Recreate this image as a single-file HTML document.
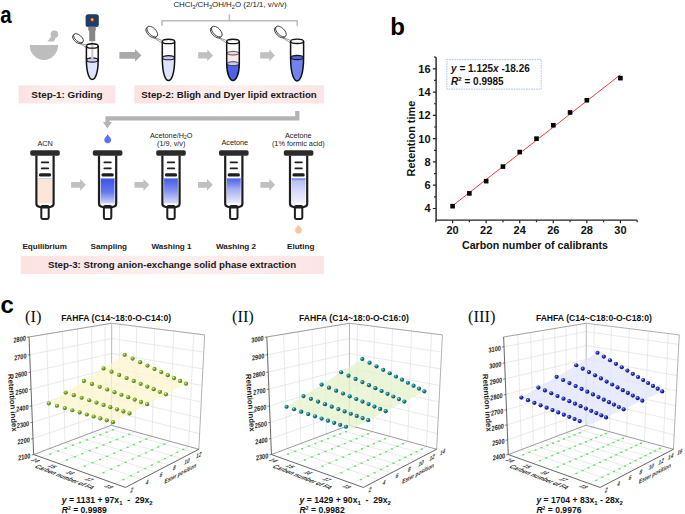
<!DOCTYPE html>
<html><head><meta charset="utf-8"><style>html,body{margin:0;padding:0;background:#fff;overflow:hidden;width:685px;height:514px;}svg{display:block;}</style></head>
<body><svg width="685" height="514" viewBox="0 0 685 514">
<defs>
<linearGradient id="pinkg" x1="0" x2="1" y1="0" y2="0"><stop offset="0" stop-color="#fce2e2"/><stop offset="0.5" stop-color="#fdf0f0"/><stop offset="1" stop-color="#fce4e4"/></linearGradient>
<linearGradient id="g_s2" x1="0" x2="0" y1="0" y2="1"><stop offset="0" stop-color="#3d52e6"/><stop offset="0.5" stop-color="#6476ec"/><stop offset="1" stop-color="#e2e6fb"/></linearGradient>
<linearGradient id="g_s3" x1="0" x2="0" y1="0" y2="1"><stop offset="0" stop-color="#4658e6"/><stop offset="0.45" stop-color="#8290ef"/><stop offset="1" stop-color="#e6e8fb"/></linearGradient>
<linearGradient id="g_s4" x1="0" x2="0" y1="0" y2="1"><stop offset="0" stop-color="#4a5ee8"/><stop offset="0.4" stop-color="#a4aef3"/><stop offset="1" stop-color="#f8f5fb"/></linearGradient>
<linearGradient id="g_s5" x1="0" x2="0" y1="0" y2="1"><stop offset="0" stop-color="#5a6ae8"/><stop offset="0.09" stop-color="#b8bff5"/><stop offset="0.5" stop-color="#d9ddf9"/><stop offset="1" stop-color="#f7f7fe"/></linearGradient>
<radialGradient id="sph0" cx="0.38" cy="0.35" r="0.7"><stop offset="0" stop-color="#eefcc0"/><stop offset="0.3" stop-color="#8cbc2c"/><stop offset="1" stop-color="#3a6a0a"/></radialGradient>
<radialGradient id="sph1" cx="0.38" cy="0.35" r="0.65"><stop offset="0" stop-color="#b8f4f4"/><stop offset="0.35" stop-color="#1c909a"/><stop offset="1" stop-color="#064650"/></radialGradient>
<radialGradient id="sph2" cx="0.38" cy="0.35" r="0.65"><stop offset="0" stop-color="#c0c8ff"/><stop offset="0.35" stop-color="#2838d0"/><stop offset="1" stop-color="#080c70"/></radialGradient>
</defs>
<text transform="translate(0.2,23) scale(0.82,0.97)" font-family="Liberation Sans, sans-serif" font-weight="bold" font-size="25">a</text>
<path d="M29.7,44.9 H58.1 A14.2,15.1 0 0 1 29.7,44.9 Z" fill="#bdbdbd"/>
<path d="M47.4,41.4 L53.9,41.4 L55.6,37.4 L52.0,35.4 Z" fill="#bdbdbd"/>
<circle cx="54.4" cy="34.3" r="3.8" fill="#bdbdbd"/>
<rect x="85.6" y="14.3" width="13.2" height="12.7" rx="2.5" fill="#1f3d6b"/>
<circle cx="92.2" cy="19.7" r="2.0" fill="#e42a1c"/><circle cx="92.2" cy="19.6" r="1.15" fill="#ffe600"/>
<rect x="88.2" y="26.5" width="7.6" height="4.1" fill="#858585"/>
<rect x="89.2" y="30" width="6.0" height="11.1" fill="#858585"/>
<path d="M86.39999999999999,60.0 C86.39999999999999,73.4 89.5,79.4 92.3,79.4 C95.1,79.4 98.2,73.4 98.2,60.0 Z" fill="#dfe3fb"/>
<ellipse cx="92.3" cy="60.0" rx="5.6000000000000005" ry="2.1" fill="#c5cdf7" stroke="#1a1a1a" stroke-width="1.1"/>
<rect x="91.2" y="41" width="2.2" height="19.0" fill="#cdcdcd"/>
<path d="M86.39999999999999,45.9 V60.0 C86.39999999999999,73.4 89.5,79.4 92.3,79.4 C95.1,79.4 98.2,73.4 98.2,60.0 V45.9" fill="none" stroke="#111" stroke-width="1.5"/>
<ellipse cx="92.3" cy="45.9" rx="5.9" ry="2.2" fill="none" stroke="#111" stroke-width="1.4"/>
<path d="M75.49,40.79 L86.60,47.80 M80.38,43.31 L87.20,45.30" stroke="#555" stroke-width="0.6" fill="none"/>
<ellipse cx="77.40" cy="39.20" rx="5.9" ry="3.1" transform="rotate(41 77.40 39.20)" fill="#fff" stroke="#222" stroke-width="0.8"/>
<ellipse cx="78.50" cy="38.20" rx="5.9" ry="3.1" transform="rotate(41 78.50 38.20)" fill="#fff" stroke="#222" stroke-width="0.8"/>
<path d="M162.3,57.7 C162.3,74.5 165.7,80.5 168.5,80.5 C171.3,80.5 174.7,74.5 174.7,57.7 Z" fill="#dde3fb"/>
<ellipse cx="168.5" cy="57.7" rx="5.9" ry="2.1" fill="#c3cbf6" stroke="#1a1a1a" stroke-width="1.1"/>
<path d="M162.3,41.4 V57.7 C162.3,74.5 165.7,80.5 168.5,80.5 C171.3,80.5 174.7,74.5 174.7,57.7 V41.4" fill="none" stroke="#111" stroke-width="1.5"/>
<ellipse cx="168.5" cy="41.4" rx="6.2" ry="2.2" fill="none" stroke="#111" stroke-width="1.4"/>
<path d="M148.75,34.32 L162.50,43.30 M154.12,37.54 L163.10,40.80" stroke="#555" stroke-width="0.6" fill="none"/>
<ellipse cx="151.20" cy="32.60" rx="6.7" ry="3.6" transform="rotate(45 151.20 32.60)" fill="#fff" stroke="#222" stroke-width="0.8"/>
<ellipse cx="152.30" cy="31.60" rx="6.7" ry="3.6" transform="rotate(45 152.30 31.60)" fill="#fff" stroke="#222" stroke-width="0.8"/>
<rect x="226.7" y="53.2" width="12.6" height="10.5" fill="#fbeaea"/>
<ellipse cx="233.0" cy="53.2" rx="6.0" ry="1.8" fill="#f6d4d4" stroke="#333" stroke-width="0.8"/>
<path d="M226.7,63.7 C226.7,74.5 230.2,80.5 233.0,80.5 C235.8,80.5 239.3,74.5 239.3,63.7 Z" fill="#4d62e8"/>
<ellipse cx="233.0" cy="63.7" rx="6.0" ry="2.0" fill="#c3cbf8" stroke="#333" stroke-width="0.9"/>
<path d="M226.7,41.4 V63.7 C226.7,74.5 230.2,80.5 233.0,80.5 C235.8,80.5 239.3,74.5 239.3,63.7 V41.4" fill="none" stroke="#111" stroke-width="1.5"/>
<ellipse cx="233.0" cy="41.4" rx="6.3" ry="2.2" fill="none" stroke="#111" stroke-width="1.4"/>
<path d="M213.25,34.32 L226.90,43.30 M218.62,37.54 L227.50,40.80" stroke="#555" stroke-width="0.6" fill="none"/>
<ellipse cx="215.70" cy="32.60" rx="6.7" ry="3.6" transform="rotate(45 215.70 32.60)" fill="#fff" stroke="#222" stroke-width="0.8"/>
<ellipse cx="216.80" cy="31.60" rx="6.7" ry="3.6" transform="rotate(45 216.80 31.60)" fill="#fff" stroke="#222" stroke-width="0.8"/>
<path d="M290.6,57.5 C290.6,75.0 294.3,81.0 297.1,81.0 C299.90000000000003,81.0 303.6,75.0 303.6,57.5 Z" fill="#7283f1"/>
<ellipse cx="297.1" cy="57.5" rx="6.2" ry="2.1" fill="#4d62e6" stroke="#1a1a1a" stroke-width="1.1"/>
<path d="M290.6,41.3 V57.5 C290.6,75.0 294.3,81.0 297.1,81.0 C299.90000000000003,81.0 303.6,75.0 303.6,57.5 V41.3" fill="none" stroke="#111" stroke-width="1.5"/>
<ellipse cx="297.1" cy="41.3" rx="6.5" ry="2.2" fill="none" stroke="#111" stroke-width="1.4"/>
<path d="M277.35,34.22 L290.80,43.20 M282.72,37.44 L291.40,40.70" stroke="#555" stroke-width="0.6" fill="none"/>
<ellipse cx="279.80" cy="32.50" rx="6.7" ry="3.6" transform="rotate(45 279.80 32.50)" fill="#fff" stroke="#222" stroke-width="0.8"/>
<ellipse cx="280.90" cy="31.50" rx="6.7" ry="3.6" transform="rotate(45 280.90 31.50)" fill="#fff" stroke="#222" stroke-width="0.8"/>
<path d="M119.40,52.10 H135.10 V49.10 L141.40,55.40 L135.10,61.70 V58.70 H119.40 Z" fill="#a9a9a9"/>
<path d="M198.20,52.25 H207.30 V49.50 L213.00,55.40 L207.30,61.30 V58.55 H198.20 Z" fill="#c0c0c0"/>
<path d="M260.20,52.25 H269.30 V49.50 L275.00,55.40 L269.30,61.30 V58.55 H260.20 Z" fill="#c0c0c0"/>
<path d="M162,25.8 V20.8 H297.2 V25.8 M229.4,20.8 V14.2" fill="none" stroke="#bcbcbc" stroke-width="1.5"/>
<text x="173.4" y="6.7" font-family="Liberation Sans, sans-serif" font-size="7.9" fill="#222">CHCl<tspan font-size="5.6" dy="2">3</tspan><tspan dy="-2">/CH</tspan><tspan font-size="5.6" dy="2">3</tspan><tspan dy="-2">OH/H</tspan><tspan font-size="5.6" dy="2">2</tspan><tspan dy="-2">O (2/1/1, v/v/v)</tspan></text>
<rect x="18.6" y="85.4" width="96.8" height="18.1" fill="url(#pinkg)"/>
<text x="67" y="97.5" font-family="Liberation Sans, sans-serif" font-weight="bold" font-size="9.9" text-anchor="middle" fill="#1a1a1a">Step-1: Griding</text>
<rect x="134.3" y="85.2" width="189.6" height="18.3" fill="url(#pinkg)"/>
<text x="229" y="97.5" font-family="Liberation Sans, sans-serif" font-weight="bold" font-size="9.7" text-anchor="middle" fill="#1a1a1a">Step-2: Bligh and Dyer lipid extraction</text>
<path d="M297.3,111 V118.4 H107.5 V123" fill="none" stroke="#b4b4b4" stroke-width="4.2"/>
<path d="M102.9,122 H111.9 L107.4,128.6 Z" fill="#b4b4b4"/>
<path d="M107.7,134.2 C109.2,136.7 111.12,137.728 111.12,139.78 A3.42,3.42 0 0 1 104.28,139.78 C104.28,137.728 106.2,136.7 107.7,134.2 Z" fill="#5872f2"/>
<path d="M298.5,224.6 C300.0,227.1 301.92,228.12800000000001 301.92,230.18 A3.42,3.42 0 0 1 295.08,230.18 C295.08,228.12800000000001 297.0,227.1 298.5,224.6 Z" fill="#f9c6a0"/>
<rect x="30.2" y="150.2" width="29.6" height="5.6" rx="1.8" fill="#2b2b2b"/>
<rect x="38.1" y="178.6" width="13.8" height="27" fill="#fde6d6"/>
<line x1="38.6" y1="178.6" x2="51.400000000000006" y2="178.6" stroke="#8fb6ee" stroke-width="0.6"/>
<rect x="38.1" y="203.4" width="13.8" height="3.6" fill="#fff"/>
<line x1="41.5" y1="205.4" x2="48.5" y2="205.4" stroke="#7fbcec" stroke-width="0.8"/>
<rect x="41.30" y="206" width="7.4" height="12.9" rx="1.4" fill="#fff" stroke="#1e1e1e" stroke-width="2"/>
<path d="M36.40,155.5 V203.6 Q36.40,206.4 39.00,206.7 Q45.00,208.3 51.00,206.7 Q53.60,206.4 53.60,203.6 V155.5" fill="none" stroke="#1e1e1e" stroke-width="2.2" stroke-linejoin="round"/>
<line x1="41.7" y1="162.3" x2="48.3" y2="162.3" stroke="#1e1e1e" stroke-width="1.7" stroke-linecap="round"/>
<line x1="41.7" y1="168.3" x2="48.3" y2="168.3" stroke="#1e1e1e" stroke-width="1.7" stroke-linecap="round"/>
<line x1="40.4" y1="174.9" x2="49.6" y2="174.9" stroke="#1e1e1e" stroke-width="3.1" stroke-linecap="round"/>
<rect x="92.8" y="150.2" width="29.6" height="5.6" rx="1.8" fill="#2b2b2b"/>
<rect x="100.69999999999999" y="178.3" width="13.8" height="27.3" fill="url(#g_s2)"/>
<line x1="101.19999999999999" y1="178.6" x2="113.99999999999999" y2="178.6" stroke="#8fb6ee" stroke-width="0.6"/>
<rect x="100.69999999999999" y="203.4" width="13.8" height="3.6" fill="#fff"/>
<line x1="104.1" y1="205.4" x2="111.1" y2="205.4" stroke="#7fbcec" stroke-width="0.8"/>
<rect x="103.90" y="206" width="7.4" height="12.9" rx="1.4" fill="#fff" stroke="#1e1e1e" stroke-width="2"/>
<path d="M99.00,155.5 V203.6 Q99.00,206.4 101.60,206.7 Q107.60,208.3 113.60,206.7 Q116.20,206.4 116.20,203.6 V155.5" fill="none" stroke="#1e1e1e" stroke-width="2.2" stroke-linejoin="round"/>
<line x1="104.3" y1="162.3" x2="110.89999999999999" y2="162.3" stroke="#1e1e1e" stroke-width="1.7" stroke-linecap="round"/>
<line x1="104.3" y1="168.3" x2="110.89999999999999" y2="168.3" stroke="#1e1e1e" stroke-width="1.7" stroke-linecap="round"/>
<line x1="103.0" y1="174.9" x2="112.19999999999999" y2="174.9" stroke="#1e1e1e" stroke-width="3.1" stroke-linecap="round"/>
<rect x="156.2" y="150.2" width="29.6" height="5.6" rx="1.8" fill="#2b2b2b"/>
<rect x="164.1" y="178.3" width="13.8" height="27.3" fill="url(#g_s3)"/>
<line x1="164.6" y1="178.6" x2="177.4" y2="178.6" stroke="#8fb6ee" stroke-width="0.6"/>
<rect x="164.1" y="203.4" width="13.8" height="3.6" fill="#fff"/>
<line x1="167.5" y1="205.4" x2="174.5" y2="205.4" stroke="#7fbcec" stroke-width="0.8"/>
<rect x="167.30" y="206" width="7.4" height="12.9" rx="1.4" fill="#fff" stroke="#1e1e1e" stroke-width="2"/>
<path d="M162.40,155.5 V203.6 Q162.40,206.4 165.00,206.7 Q171.00,208.3 177.00,206.7 Q179.60,206.4 179.60,203.6 V155.5" fill="none" stroke="#1e1e1e" stroke-width="2.2" stroke-linejoin="round"/>
<line x1="167.7" y1="162.3" x2="174.3" y2="162.3" stroke="#1e1e1e" stroke-width="1.7" stroke-linecap="round"/>
<line x1="167.7" y1="168.3" x2="174.3" y2="168.3" stroke="#1e1e1e" stroke-width="1.7" stroke-linecap="round"/>
<line x1="166.4" y1="174.9" x2="175.6" y2="174.9" stroke="#1e1e1e" stroke-width="3.1" stroke-linecap="round"/>
<rect x="219.0" y="150.2" width="29.6" height="5.6" rx="1.8" fill="#2b2b2b"/>
<rect x="226.9" y="178.3" width="13.8" height="27.3" fill="url(#g_s4)"/>
<line x1="227.4" y1="178.6" x2="240.20000000000002" y2="178.6" stroke="#8fb6ee" stroke-width="0.6"/>
<rect x="226.9" y="203.4" width="13.8" height="3.6" fill="#fff"/>
<line x1="230.3" y1="205.4" x2="237.3" y2="205.4" stroke="#7fbcec" stroke-width="0.8"/>
<rect x="230.10" y="206" width="7.4" height="12.9" rx="1.4" fill="#fff" stroke="#1e1e1e" stroke-width="2"/>
<path d="M225.20,155.5 V203.6 Q225.20,206.4 227.80,206.7 Q233.80,208.3 239.80,206.7 Q242.40,206.4 242.40,203.6 V155.5" fill="none" stroke="#1e1e1e" stroke-width="2.2" stroke-linejoin="round"/>
<line x1="230.5" y1="162.3" x2="237.10000000000002" y2="162.3" stroke="#1e1e1e" stroke-width="1.7" stroke-linecap="round"/>
<line x1="230.5" y1="168.3" x2="237.10000000000002" y2="168.3" stroke="#1e1e1e" stroke-width="1.7" stroke-linecap="round"/>
<line x1="229.20000000000002" y1="174.9" x2="238.4" y2="174.9" stroke="#1e1e1e" stroke-width="3.1" stroke-linecap="round"/>
<rect x="283.8" y="150.2" width="29.6" height="5.6" rx="1.8" fill="#2b2b2b"/>
<rect x="291.70000000000005" y="178.3" width="13.8" height="27.3" fill="url(#g_s5)"/>
<line x1="292.20000000000005" y1="178.6" x2="305.00000000000006" y2="178.6" stroke="#8fb6ee" stroke-width="0.6"/>
<rect x="291.70000000000005" y="203.4" width="13.8" height="3.6" fill="#fff"/>
<line x1="295.1" y1="205.4" x2="302.1" y2="205.4" stroke="#7fbcec" stroke-width="0.8"/>
<rect x="294.90" y="206" width="7.4" height="12.9" rx="1.4" fill="#fff" stroke="#1e1e1e" stroke-width="2"/>
<path d="M290.00,155.5 V203.6 Q290.00,206.4 292.60,206.7 Q298.60,208.3 304.60,206.7 Q307.20,206.4 307.20,203.6 V155.5" fill="none" stroke="#1e1e1e" stroke-width="2.2" stroke-linejoin="round"/>
<line x1="295.3" y1="162.3" x2="301.90000000000003" y2="162.3" stroke="#1e1e1e" stroke-width="1.7" stroke-linecap="round"/>
<line x1="295.3" y1="168.3" x2="301.90000000000003" y2="168.3" stroke="#1e1e1e" stroke-width="1.7" stroke-linecap="round"/>
<line x1="294.0" y1="174.9" x2="303.20000000000005" y2="174.9" stroke="#1e1e1e" stroke-width="3.1" stroke-linecap="round"/>
<path d="M71.10,181.95 H80.10 V178.90 L85.90,184.80 L80.10,190.70 V187.65 H71.10 Z" fill="#c0c0c0"/>
<path d="M134.50,181.95 H143.50 V178.90 L149.30,184.80 L143.50,190.70 V187.65 H134.50 Z" fill="#c0c0c0"/>
<path d="M198.00,181.95 H207.00 V178.90 L212.80,184.80 L207.00,190.70 V187.65 H198.00 Z" fill="#c0c0c0"/>
<path d="M260.40,181.95 H269.40 V178.90 L275.20,184.80 L269.40,190.70 V187.65 H260.40 Z" fill="#c0c0c0"/>
<text x="45.1" y="145.6" font-family="Liberation Sans, sans-serif" font-size="7.3" text-anchor="middle" fill="#222">ACN</text>
<text x="171.2" y="137.9" font-family="Liberation Sans, sans-serif" font-size="7.3" text-anchor="middle" fill="#222">Acetone/H<tspan font-size="5" dy="1.5">2</tspan><tspan dy="-1.5">O</tspan></text>
<text x="171.2" y="146.1" font-family="Liberation Sans, sans-serif" font-size="7.3" text-anchor="middle" fill="#222">(1/9, v/v)</text>
<text x="234.8" y="145.3" font-family="Liberation Sans, sans-serif" font-size="7.3" text-anchor="middle" fill="#222">Acetone</text>
<text x="298.3" y="137.9" font-family="Liberation Sans, sans-serif" font-size="7.3" text-anchor="middle" fill="#222">Acetone</text>
<text x="298.3" y="146.1" font-family="Liberation Sans, sans-serif" font-size="7.3" text-anchor="middle" fill="#222">(1% formic acid)</text>
<text x="22.4" y="249" font-family="Liberation Sans, sans-serif" font-weight="bold" font-size="8.1" fill="#1a1a1a">Equilibrium</text>
<text x="90.6" y="249" font-family="Liberation Sans, sans-serif" font-weight="bold" font-size="8.1" fill="#1a1a1a">Sampling</text>
<text x="151.4" y="249" font-family="Liberation Sans, sans-serif" font-weight="bold" font-size="8.1" fill="#1a1a1a">Washing 1</text>
<text x="215.9" y="249" font-family="Liberation Sans, sans-serif" font-weight="bold" font-size="8.1" fill="#1a1a1a">Washing 2</text>
<text x="287.0" y="249" font-family="Liberation Sans, sans-serif" font-weight="bold" font-size="8.1" fill="#1a1a1a">Eluting</text>
<rect x="20.7" y="255.8" width="303.1" height="18.2" fill="url(#pinkg)"/>
<text x="172" y="268.2" font-family="Liberation Sans, sans-serif" font-weight="bold" font-size="9.7" text-anchor="middle" fill="#1a1a1a">Step-3: Strong anion-exchange solid phase extraction</text>
<text x="390.3" y="34.9" font-family="Liberation Sans, sans-serif" font-weight="bold" font-size="24">b</text>
<path d="M436.1,57.18000000000001 V220.14 H637.1800000000001" fill="none" stroke="#222" stroke-width="1.4"/>
<path d="M452.60,220.14 v3.2 M469.38,220.14 v2.0 M486.16,220.14 v3.2 M502.94,220.14 v2.0 M519.72,220.14 v3.2 M536.50,220.14 v2.0 M553.28,220.14 v3.2 M570.06,220.14 v2.0 M586.84,220.14 v3.2 M603.62,220.14 v2.0 M620.40,220.14 v3.2 M435.82,220.14 v2 M637.18,220.14 v2 M436.1,208.50 h-3.2 M436.1,196.86 h-2.0 M436.1,185.22 h-3.2 M436.1,173.58 h-2.0 M436.1,161.94 h-3.2 M436.1,150.30 h-2.0 M436.1,138.66 h-3.2 M436.1,127.02 h-2.0 M436.1,115.38 h-3.2 M436.1,103.74 h-2.0 M436.1,92.10 h-3.2 M436.1,80.46 h-2.0 M436.1,68.82 h-3.2 M436.1,57.18 h-2" stroke="#222" stroke-width="1.2" fill="none"/>
<text x="452.60" y="233.7" font-family="Liberation Sans, sans-serif" font-weight="bold" font-size="11" text-anchor="middle" fill="#111">20</text>
<text x="486.16" y="233.7" font-family="Liberation Sans, sans-serif" font-weight="bold" font-size="11" text-anchor="middle" fill="#111">22</text>
<text x="519.72" y="233.7" font-family="Liberation Sans, sans-serif" font-weight="bold" font-size="11" text-anchor="middle" fill="#111">24</text>
<text x="553.28" y="233.7" font-family="Liberation Sans, sans-serif" font-weight="bold" font-size="11" text-anchor="middle" fill="#111">26</text>
<text x="586.84" y="233.7" font-family="Liberation Sans, sans-serif" font-weight="bold" font-size="11" text-anchor="middle" fill="#111">28</text>
<text x="620.40" y="233.7" font-family="Liberation Sans, sans-serif" font-weight="bold" font-size="11" text-anchor="middle" fill="#111">30</text>
<text x="430.6" y="212.40" font-family="Liberation Sans, sans-serif" font-weight="bold" font-size="11" text-anchor="end" fill="#111">4</text>
<text x="430.6" y="189.12" font-family="Liberation Sans, sans-serif" font-weight="bold" font-size="11" text-anchor="end" fill="#111">6</text>
<text x="430.6" y="165.84" font-family="Liberation Sans, sans-serif" font-weight="bold" font-size="11" text-anchor="end" fill="#111">8</text>
<text x="430.6" y="142.56" font-family="Liberation Sans, sans-serif" font-weight="bold" font-size="11" text-anchor="end" fill="#111">10</text>
<text x="430.6" y="119.28" font-family="Liberation Sans, sans-serif" font-weight="bold" font-size="11" text-anchor="end" fill="#111">12</text>
<text x="430.6" y="96.00" font-family="Liberation Sans, sans-serif" font-weight="bold" font-size="11" text-anchor="end" fill="#111">14</text>
<text x="430.6" y="72.72" font-family="Liberation Sans, sans-serif" font-weight="bold" font-size="11" text-anchor="end" fill="#111">16</text>
<text x="535" y="249.3" font-family="Liberation Sans, sans-serif" font-weight="bold" font-size="10.7" text-anchor="middle" fill="#111">Carbon number of calibrants</text>
<text transform="translate(415.4,138.6) rotate(-90)" x="0" y="0" font-family="Liberation Sans, sans-serif" font-weight="bold" font-size="10.9" text-anchor="middle" fill="#111">Retention time</text>
<line x1="452.6" y1="205.71" x2="620.4000000000001" y2="74.76" stroke="#f03c3c" stroke-width="1"/>
<rect x="450.30" y="203.87" width="4.6" height="4.6" fill="#000"/>
<rect x="467.08" y="191.07" width="4.6" height="4.6" fill="#000"/>
<rect x="483.86" y="178.85" width="4.6" height="4.6" fill="#000"/>
<rect x="500.64" y="164.30" width="4.6" height="4.6" fill="#000"/>
<rect x="517.42" y="149.75" width="4.6" height="4.6" fill="#000"/>
<rect x="534.20" y="136.36" width="4.6" height="4.6" fill="#000"/>
<rect x="550.98" y="122.97" width="4.6" height="4.6" fill="#000"/>
<rect x="567.76" y="110.17" width="4.6" height="4.6" fill="#000"/>
<rect x="584.54" y="97.95" width="4.6" height="4.6" fill="#000"/>
<rect x="618.10" y="75.83" width="4.6" height="4.6" fill="#000"/>
<rect x="446.9" y="59.4" width="94.3" height="29.7" fill="#fff" stroke="#8aa6dc" stroke-width="0.7" stroke-dasharray="1.6,0.9"/>
<text x="451.1" y="72.3" font-family="Liberation Sans, sans-serif" font-weight="bold" font-size="10" fill="#111"><tspan font-style="italic">y</tspan> = 1.125<tspan font-style="italic">x</tspan> -18.26</text>
<text x="451.1" y="84.7" font-family="Liberation Sans, sans-serif" font-weight="bold" font-size="10" fill="#111"><tspan font-style="italic">R</tspan><tspan font-size="6" dy="-3.5">2</tspan><tspan dy="3.5"> = 0.9985</tspan></text>
<text x="0.5" y="312.6" font-family="Liberation Sans, sans-serif" font-weight="bold" font-size="24">c</text>
<line x1="50.04" y1="448.38" x2="46.58" y2="334.05" stroke="#dedede" stroke-width="0.65"/>
<line x1="64.93" y1="442.77" x2="62.47" y2="331.42" stroke="#dedede" stroke-width="0.65"/>
<line x1="79.03" y1="437.45" x2="77.47" y2="328.93" stroke="#dedede" stroke-width="0.65"/>
<line x1="92.40" y1="432.41" x2="91.64" y2="326.58" stroke="#dedede" stroke-width="0.65"/>
<line x1="105.09" y1="427.62" x2="105.06" y2="324.36" stroke="#dedede" stroke-width="0.65"/>
<line x1="33.03" y1="438.64" x2="111.44" y2="411.33" stroke="#dedede" stroke-width="0.65"/>
<line x1="32.39" y1="422.44" x2="111.48" y2="397.20" stroke="#dedede" stroke-width="0.65"/>
<line x1="31.74" y1="405.95" x2="111.53" y2="382.86" stroke="#dedede" stroke-width="0.65"/>
<line x1="31.08" y1="389.16" x2="111.57" y2="368.30" stroke="#dedede" stroke-width="0.65"/>
<line x1="30.41" y1="372.08" x2="111.62" y2="353.52" stroke="#dedede" stroke-width="0.65"/>
<line x1="29.72" y1="354.68" x2="111.66" y2="338.50" stroke="#dedede" stroke-width="0.65"/>
<line x1="29.03" y1="336.96" x2="111.71" y2="323.25" stroke="#dedede" stroke-width="0.65"/>
<line x1="118.84" y1="427.29" x2="119.57" y2="324.24" stroke="#dedede" stroke-width="0.65"/>
<line x1="135.06" y1="431.74" x2="136.73" y2="326.38" stroke="#dedede" stroke-width="0.65"/>
<line x1="152.05" y1="436.40" x2="154.76" y2="328.64" stroke="#dedede" stroke-width="0.65"/>
<line x1="169.89" y1="441.29" x2="173.73" y2="331.01" stroke="#dedede" stroke-width="0.65"/>
<line x1="188.62" y1="446.43" x2="193.72" y2="333.51" stroke="#dedede" stroke-width="0.65"/>
<line x1="111.44" y1="411.33" x2="199.63" y2="433.73" stroke="#dedede" stroke-width="0.65"/>
<line x1="111.48" y1="397.20" x2="200.43" y2="417.95" stroke="#dedede" stroke-width="0.65"/>
<line x1="111.53" y1="382.86" x2="201.24" y2="401.91" stroke="#dedede" stroke-width="0.65"/>
<line x1="111.57" y1="368.30" x2="202.07" y2="385.59" stroke="#dedede" stroke-width="0.65"/>
<line x1="111.62" y1="353.52" x2="202.91" y2="368.98" stroke="#dedede" stroke-width="0.65"/>
<line x1="111.66" y1="338.50" x2="203.77" y2="352.08" stroke="#dedede" stroke-width="0.65"/>
<line x1="111.71" y1="323.25" x2="204.64" y2="334.88" stroke="#dedede" stroke-width="0.65"/>
<line x1="41.33" y1="457.31" x2="118.84" y2="427.29" stroke="#dedede" stroke-width="0.65"/>
<line x1="58.14" y1="463.33" x2="135.06" y2="431.74" stroke="#dedede" stroke-width="0.65"/>
<line x1="75.90" y1="469.69" x2="152.05" y2="436.40" stroke="#dedede" stroke-width="0.65"/>
<line x1="94.69" y1="476.41" x2="169.89" y2="441.29" stroke="#dedede" stroke-width="0.65"/>
<line x1="114.60" y1="483.54" x2="188.62" y2="446.43" stroke="#dedede" stroke-width="0.65"/>
<line x1="50.04" y1="448.38" x2="141.24" y2="479.27" stroke="#dedede" stroke-width="0.65"/>
<line x1="64.93" y1="442.77" x2="155.40" y2="471.89" stroke="#dedede" stroke-width="0.65"/>
<line x1="79.03" y1="437.45" x2="168.69" y2="464.95" stroke="#dedede" stroke-width="0.65"/>
<line x1="92.40" y1="432.41" x2="181.21" y2="458.43" stroke="#dedede" stroke-width="0.65"/>
<line x1="105.09" y1="427.62" x2="193.00" y2="452.28" stroke="#dedede" stroke-width="0.65"/>
<line x1="29.03" y1="336.96" x2="111.71" y2="323.25" stroke="#8a8a8a" stroke-width="0.8"/>
<line x1="111.71" y1="323.25" x2="204.64" y2="334.88" stroke="#9a9a9a" stroke-width="0.8"/>
<line x1="204.64" y1="334.88" x2="198.84" y2="449.24" stroke="#a0a0a0" stroke-width="0.8"/>
<line x1="111.40" y1="425.24" x2="111.71" y2="323.25" stroke="#a8a8a8" stroke-width="0.8"/>
<line x1="33.65" y1="454.56" x2="111.40" y2="425.24" stroke="#808080" stroke-width="0.8"/>
<line x1="111.40" y1="425.24" x2="198.84" y2="449.24" stroke="#808080" stroke-width="0.8"/>
<line x1="29.03" y1="336.96" x2="33.65" y2="454.56" stroke="#555" stroke-width="0.9"/>
<line x1="33.65" y1="454.56" x2="125.53" y2="487.46" stroke="#555" stroke-width="0.9"/>
<line x1="125.53" y1="487.46" x2="198.84" y2="449.24" stroke="#555" stroke-width="0.9"/>
<rect x="49.35" y="453.42" width="2" height="1.4" fill="#52ea52"/>
<rect x="57.10" y="450.41" width="2" height="1.4" fill="#52ea52"/>
<rect x="64.63" y="447.49" width="2" height="1.4" fill="#52ea52"/>
<rect x="71.95" y="444.65" width="2" height="1.4" fill="#52ea52"/>
<rect x="79.08" y="441.88" width="2" height="1.4" fill="#52ea52"/>
<rect x="86.01" y="439.20" width="2" height="1.4" fill="#52ea52"/>
<rect x="92.76" y="436.58" width="2" height="1.4" fill="#52ea52"/>
<rect x="99.32" y="434.03" width="2" height="1.4" fill="#52ea52"/>
<rect x="105.72" y="431.55" width="2" height="1.4" fill="#52ea52"/>
<rect x="111.96" y="429.13" width="2" height="1.4" fill="#52ea52"/>
<rect x="66.14" y="459.26" width="2" height="1.4" fill="#52ea52"/>
<rect x="73.85" y="456.09" width="2" height="1.4" fill="#52ea52"/>
<rect x="81.34" y="453.01" width="2" height="1.4" fill="#52ea52"/>
<rect x="88.62" y="450.01" width="2" height="1.4" fill="#52ea52"/>
<rect x="95.69" y="447.10" width="2" height="1.4" fill="#52ea52"/>
<rect x="102.56" y="444.27" width="2" height="1.4" fill="#52ea52"/>
<rect x="109.25" y="441.52" width="2" height="1.4" fill="#52ea52"/>
<rect x="115.76" y="438.85" width="2" height="1.4" fill="#52ea52"/>
<rect x="122.10" y="436.24" width="2" height="1.4" fill="#52ea52"/>
<rect x="128.26" y="433.70" width="2" height="1.4" fill="#52ea52"/>
<rect x="83.87" y="465.42" width="2" height="1.4" fill="#52ea52"/>
<rect x="91.53" y="462.07" width="2" height="1.4" fill="#52ea52"/>
<rect x="98.95" y="458.82" width="2" height="1.4" fill="#52ea52"/>
<rect x="106.16" y="455.66" width="2" height="1.4" fill="#52ea52"/>
<rect x="113.17" y="452.59" width="2" height="1.4" fill="#52ea52"/>
<rect x="119.97" y="449.62" width="2" height="1.4" fill="#52ea52"/>
<rect x="126.59" y="446.72" width="2" height="1.4" fill="#52ea52"/>
<rect x="133.02" y="443.90" width="2" height="1.4" fill="#52ea52"/>
<rect x="139.28" y="441.16" width="2" height="1.4" fill="#52ea52"/>
<rect x="145.37" y="438.50" width="2" height="1.4" fill="#52ea52"/>
<rect x="102.61" y="471.94" width="2" height="1.4" fill="#52ea52"/>
<rect x="110.19" y="468.39" width="2" height="1.4" fill="#52ea52"/>
<rect x="117.54" y="464.95" width="2" height="1.4" fill="#52ea52"/>
<rect x="124.67" y="461.62" width="2" height="1.4" fill="#52ea52"/>
<rect x="131.59" y="458.38" width="2" height="1.4" fill="#52ea52"/>
<rect x="138.30" y="455.24" width="2" height="1.4" fill="#52ea52"/>
<rect x="144.83" y="452.19" width="2" height="1.4" fill="#52ea52"/>
<rect x="151.17" y="449.22" width="2" height="1.4" fill="#52ea52"/>
<rect x="157.33" y="446.34" width="2" height="1.4" fill="#52ea52"/>
<rect x="163.32" y="443.53" width="2" height="1.4" fill="#52ea52"/>
<rect x="122.45" y="478.84" width="2" height="1.4" fill="#52ea52"/>
<rect x="129.93" y="475.08" width="2" height="1.4" fill="#52ea52"/>
<rect x="137.18" y="471.44" width="2" height="1.4" fill="#52ea52"/>
<rect x="144.21" y="467.91" width="2" height="1.4" fill="#52ea52"/>
<rect x="151.02" y="464.49" width="2" height="1.4" fill="#52ea52"/>
<rect x="157.63" y="461.17" width="2" height="1.4" fill="#52ea52"/>
<rect x="164.04" y="457.95" width="2" height="1.4" fill="#52ea52"/>
<rect x="170.27" y="454.82" width="2" height="1.4" fill="#52ea52"/>
<rect x="176.32" y="451.78" width="2" height="1.4" fill="#52ea52"/>
<rect x="182.20" y="448.83" width="2" height="1.4" fill="#52ea52"/>
<polygon points="48.81,403.35 112.99,422.17 185.98,383.72 124.68,354.84" fill="#fbf5cc" fill-opacity="0.75"/>
<circle cx="48.81" cy="403.35" r="2.1" fill="url(#sph0)"/>
<circle cx="56.92" cy="405.73" r="2.1" fill="url(#sph0)"/>
<circle cx="64.75" cy="408.03" r="2.1" fill="url(#sph0)"/>
<circle cx="72.33" cy="410.25" r="2.1" fill="url(#sph0)"/>
<circle cx="79.66" cy="412.40" r="2.1" fill="url(#sph0)"/>
<circle cx="86.75" cy="414.48" r="2.1" fill="url(#sph0)"/>
<circle cx="93.62" cy="416.49" r="2.1" fill="url(#sph0)"/>
<circle cx="100.28" cy="418.44" r="2.1" fill="url(#sph0)"/>
<circle cx="106.73" cy="420.33" r="2.1" fill="url(#sph0)"/>
<circle cx="112.99" cy="422.17" r="2.1" fill="url(#sph0)"/>
<circle cx="65.72" cy="392.54" r="2.1" fill="url(#sph0)"/>
<circle cx="73.82" cy="395.20" r="2.1" fill="url(#sph0)"/>
<circle cx="81.63" cy="397.76" r="2.1" fill="url(#sph0)"/>
<circle cx="89.18" cy="400.23" r="2.1" fill="url(#sph0)"/>
<circle cx="96.47" cy="402.62" r="2.1" fill="url(#sph0)"/>
<circle cx="103.52" cy="404.93" r="2.1" fill="url(#sph0)"/>
<circle cx="110.34" cy="407.16" r="2.1" fill="url(#sph0)"/>
<circle cx="116.94" cy="409.33" r="2.1" fill="url(#sph0)"/>
<circle cx="123.34" cy="411.42" r="2.1" fill="url(#sph0)"/>
<circle cx="129.53" cy="413.45" r="2.1" fill="url(#sph0)"/>
<circle cx="83.90" cy="380.92" r="2.1" fill="url(#sph0)"/>
<circle cx="91.96" cy="383.88" r="2.1" fill="url(#sph0)"/>
<circle cx="99.73" cy="386.74" r="2.1" fill="url(#sph0)"/>
<circle cx="107.22" cy="389.50" r="2.1" fill="url(#sph0)"/>
<circle cx="114.45" cy="392.16" r="2.1" fill="url(#sph0)"/>
<circle cx="121.44" cy="394.73" r="2.1" fill="url(#sph0)"/>
<circle cx="128.19" cy="397.21" r="2.1" fill="url(#sph0)"/>
<circle cx="134.71" cy="399.61" r="2.1" fill="url(#sph0)"/>
<circle cx="141.03" cy="401.93" r="2.1" fill="url(#sph0)"/>
<circle cx="147.14" cy="404.18" r="2.1" fill="url(#sph0)"/>
<circle cx="103.49" cy="368.39" r="2.1" fill="url(#sph0)"/>
<circle cx="111.49" cy="371.71" r="2.1" fill="url(#sph0)"/>
<circle cx="119.18" cy="374.90" r="2.1" fill="url(#sph0)"/>
<circle cx="126.60" cy="377.98" r="2.1" fill="url(#sph0)"/>
<circle cx="133.74" cy="380.94" r="2.1" fill="url(#sph0)"/>
<circle cx="140.63" cy="383.80" r="2.1" fill="url(#sph0)"/>
<circle cx="147.28" cy="386.56" r="2.1" fill="url(#sph0)"/>
<circle cx="153.71" cy="389.22" r="2.1" fill="url(#sph0)"/>
<circle cx="159.91" cy="391.80" r="2.1" fill="url(#sph0)"/>
<circle cx="165.91" cy="394.29" r="2.1" fill="url(#sph0)"/>
<circle cx="124.68" cy="354.84" r="2.1" fill="url(#sph0)"/>
<circle cx="132.57" cy="358.56" r="2.1" fill="url(#sph0)"/>
<circle cx="140.16" cy="362.13" r="2.1" fill="url(#sph0)"/>
<circle cx="147.45" cy="365.57" r="2.1" fill="url(#sph0)"/>
<circle cx="154.48" cy="368.88" r="2.1" fill="url(#sph0)"/>
<circle cx="161.24" cy="372.07" r="2.1" fill="url(#sph0)"/>
<circle cx="167.76" cy="375.14" r="2.1" fill="url(#sph0)"/>
<circle cx="174.05" cy="378.10" r="2.1" fill="url(#sph0)"/>
<circle cx="180.12" cy="380.96" r="2.1" fill="url(#sph0)"/>
<circle cx="185.98" cy="383.72" r="2.1" fill="url(#sph0)"/>
<line x1="33.65" y1="454.56" x2="31.65" y2="454.86" stroke="#444" stroke-width="0.7"/>
<text transform="translate(30.45,455.56) skewY(-11) scale(0.78,1)" dy="2.5" font-family="Liberation Sans, sans-serif" font-weight="bold" font-size="7.1" text-anchor="end" fill="#1a1a1a">2100</text>
<line x1="33.03" y1="438.64" x2="31.03" y2="438.94" stroke="#444" stroke-width="0.7"/>
<text transform="translate(29.83,439.64) skewY(-11) scale(0.78,1)" dy="2.5" font-family="Liberation Sans, sans-serif" font-weight="bold" font-size="7.1" text-anchor="end" fill="#1a1a1a">2200</text>
<line x1="32.39" y1="422.44" x2="30.39" y2="422.74" stroke="#444" stroke-width="0.7"/>
<text transform="translate(29.19,423.44) skewY(-11) scale(0.78,1)" dy="2.5" font-family="Liberation Sans, sans-serif" font-weight="bold" font-size="7.1" text-anchor="end" fill="#1a1a1a">2300</text>
<line x1="31.74" y1="405.95" x2="29.74" y2="406.25" stroke="#444" stroke-width="0.7"/>
<text transform="translate(28.54,406.95) skewY(-11) scale(0.78,1)" dy="2.5" font-family="Liberation Sans, sans-serif" font-weight="bold" font-size="7.1" text-anchor="end" fill="#1a1a1a">2400</text>
<line x1="31.08" y1="389.16" x2="29.08" y2="389.46" stroke="#444" stroke-width="0.7"/>
<text transform="translate(27.88,390.16) skewY(-11) scale(0.78,1)" dy="2.5" font-family="Liberation Sans, sans-serif" font-weight="bold" font-size="7.1" text-anchor="end" fill="#1a1a1a">2500</text>
<line x1="30.41" y1="372.08" x2="28.41" y2="372.38" stroke="#444" stroke-width="0.7"/>
<text transform="translate(27.21,373.08) skewY(-11) scale(0.78,1)" dy="2.5" font-family="Liberation Sans, sans-serif" font-weight="bold" font-size="7.1" text-anchor="end" fill="#1a1a1a">2600</text>
<line x1="29.72" y1="354.68" x2="27.72" y2="354.98" stroke="#444" stroke-width="0.7"/>
<text transform="translate(26.52,355.68) skewY(-11) scale(0.78,1)" dy="2.5" font-family="Liberation Sans, sans-serif" font-weight="bold" font-size="7.1" text-anchor="end" fill="#1a1a1a">2700</text>
<line x1="29.03" y1="336.96" x2="27.03" y2="337.26" stroke="#444" stroke-width="0.7"/>
<text transform="translate(25.83,337.96) skewY(-11) scale(0.78,1)" dy="2.5" font-family="Liberation Sans, sans-serif" font-weight="bold" font-size="7.1" text-anchor="end" fill="#1a1a1a">2800</text>
<text transform="translate(12.60,402.7) rotate(86)" dy="2.6" font-family="Liberation Sans, sans-serif" font-weight="bold" font-size="7.7" text-anchor="middle" fill="#1a1a1a">Retention index</text>
<text transform="translate(35.74,460.36) rotate(22) skewX(-45)" dy="1.9" font-family="Liberation Sans, sans-serif" font-weight="bold" font-size="5.4" text-anchor="middle" fill="#333">14</text>
<text transform="translate(52.57,466.38) rotate(22) skewX(-45)" dy="1.9" font-family="Liberation Sans, sans-serif" font-weight="bold" font-size="5.4" text-anchor="middle" fill="#333">15</text>
<text transform="translate(70.35,472.75) rotate(22) skewX(-45)" dy="1.9" font-family="Liberation Sans, sans-serif" font-weight="bold" font-size="5.4" text-anchor="middle" fill="#333">16</text>
<text transform="translate(89.17,479.49) rotate(22) skewX(-45)" dy="1.9" font-family="Liberation Sans, sans-serif" font-weight="bold" font-size="5.4" text-anchor="middle" fill="#333">17</text>
<text transform="translate(109.11,486.63) rotate(22) skewX(-45)" dy="1.9" font-family="Liberation Sans, sans-serif" font-weight="bold" font-size="5.4" text-anchor="middle" fill="#333">18</text>
<text transform="translate(65.00,477.0) rotate(21.5) skewX(-40)" dy="2.2" font-family="Liberation Sans, sans-serif" font-weight="bold" font-size="6.0" text-anchor="middle" fill="#2a2a2a">Carbon number of FA</text>
<text transform="translate(131.94,489.94) rotate(-27) skewX(-40)" dy="1.9" font-family="Liberation Sans, sans-serif" font-weight="bold" font-size="5.4" text-anchor="middle" fill="#333">2</text>
<text transform="translate(147.04,482.07) rotate(-27) skewX(-40)" dy="1.9" font-family="Liberation Sans, sans-serif" font-weight="bold" font-size="5.4" text-anchor="middle" fill="#333">4</text>
<text transform="translate(161.20,474.69) rotate(-27) skewX(-40)" dy="1.9" font-family="Liberation Sans, sans-serif" font-weight="bold" font-size="5.4" text-anchor="middle" fill="#333">6</text>
<text transform="translate(174.49,467.75) rotate(-27) skewX(-40)" dy="1.9" font-family="Liberation Sans, sans-serif" font-weight="bold" font-size="5.4" text-anchor="middle" fill="#333">8</text>
<text transform="translate(187.01,461.23) rotate(-27) skewX(-40)" dy="1.9" font-family="Liberation Sans, sans-serif" font-weight="bold" font-size="5.4" text-anchor="middle" fill="#333">10</text>
<text transform="translate(198.80,455.08) rotate(-27) skewX(-40)" dy="1.9" font-family="Liberation Sans, sans-serif" font-weight="bold" font-size="5.4" text-anchor="middle" fill="#333">12</text>
<text transform="translate(180.40,473.0) rotate(-28) skewX(-35)" dy="2.1" font-family="Liberation Sans, sans-serif" font-weight="bold" font-size="5.4" text-anchor="middle" fill="#2a2a2a">Ester position</text>
<text x="25.00" y="322.2" font-family="Liberation Serif, serif" font-size="16.5" fill="#111">(I)</text>
<text x="61.30" y="321.1" font-family="Liberation Sans, sans-serif" font-weight="bold" font-size="8.6" fill="#111">FAHFA (C14~18:0-O-C14:0)</text>
<text x="61.80" y="503.3" font-family="Liberation Sans, sans-serif" font-weight="bold" font-size="8.6" fill="#111" xml:space="preserve"><tspan font-style="italic">y</tspan> = 1131 + 97x<tspan font-size="6" dy="1.8">1</tspan><tspan dy="-1.8">  -  29x</tspan><tspan font-size="6" dy="1.8">2</tspan></text>
<text x="61.80" y="512.6" font-family="Liberation Sans, sans-serif" font-weight="bold" font-size="8.6" fill="#111"><tspan font-style="italic">R</tspan><tspan font-size="5" dy="-3">2</tspan><tspan dy="3"> = 0.9989</tspan></text>
<line x1="287.07" y1="448.67" x2="283.56" y2="334.19" stroke="#dedede" stroke-width="0.65"/>
<line x1="300.79" y1="443.50" x2="298.21" y2="331.76" stroke="#dedede" stroke-width="0.65"/>
<line x1="313.84" y1="438.58" x2="312.09" y2="329.46" stroke="#dedede" stroke-width="0.65"/>
<line x1="326.26" y1="433.89" x2="325.27" y2="327.27" stroke="#dedede" stroke-width="0.65"/>
<line x1="338.10" y1="429.43" x2="337.80" y2="325.20" stroke="#dedede" stroke-width="0.65"/>
<line x1="270.83" y1="438.64" x2="349.24" y2="411.33" stroke="#dedede" stroke-width="0.65"/>
<line x1="270.19" y1="422.44" x2="349.28" y2="397.20" stroke="#dedede" stroke-width="0.65"/>
<line x1="269.54" y1="405.95" x2="349.33" y2="382.86" stroke="#dedede" stroke-width="0.65"/>
<line x1="268.88" y1="389.16" x2="349.37" y2="368.30" stroke="#dedede" stroke-width="0.65"/>
<line x1="268.21" y1="372.08" x2="349.42" y2="353.52" stroke="#dedede" stroke-width="0.65"/>
<line x1="267.52" y1="354.68" x2="349.46" y2="338.50" stroke="#dedede" stroke-width="0.65"/>
<line x1="266.83" y1="336.96" x2="349.51" y2="323.25" stroke="#dedede" stroke-width="0.65"/>
<line x1="356.64" y1="427.29" x2="357.37" y2="324.24" stroke="#dedede" stroke-width="0.65"/>
<line x1="372.86" y1="431.74" x2="374.53" y2="326.38" stroke="#dedede" stroke-width="0.65"/>
<line x1="389.85" y1="436.40" x2="392.56" y2="328.64" stroke="#dedede" stroke-width="0.65"/>
<line x1="407.69" y1="441.29" x2="411.53" y2="331.01" stroke="#dedede" stroke-width="0.65"/>
<line x1="426.42" y1="446.43" x2="431.52" y2="333.51" stroke="#dedede" stroke-width="0.65"/>
<line x1="349.24" y1="411.33" x2="437.43" y2="433.73" stroke="#dedede" stroke-width="0.65"/>
<line x1="349.28" y1="397.20" x2="438.23" y2="417.95" stroke="#dedede" stroke-width="0.65"/>
<line x1="349.33" y1="382.86" x2="439.04" y2="401.91" stroke="#dedede" stroke-width="0.65"/>
<line x1="349.37" y1="368.30" x2="439.87" y2="385.59" stroke="#dedede" stroke-width="0.65"/>
<line x1="349.42" y1="353.52" x2="440.71" y2="368.98" stroke="#dedede" stroke-width="0.65"/>
<line x1="349.46" y1="338.50" x2="441.57" y2="352.08" stroke="#dedede" stroke-width="0.65"/>
<line x1="349.51" y1="323.25" x2="442.44" y2="334.88" stroke="#dedede" stroke-width="0.65"/>
<line x1="279.13" y1="457.31" x2="356.64" y2="427.29" stroke="#dedede" stroke-width="0.65"/>
<line x1="295.94" y1="463.33" x2="372.86" y2="431.74" stroke="#dedede" stroke-width="0.65"/>
<line x1="313.70" y1="469.69" x2="389.85" y2="436.40" stroke="#dedede" stroke-width="0.65"/>
<line x1="332.49" y1="476.41" x2="407.69" y2="441.29" stroke="#dedede" stroke-width="0.65"/>
<line x1="352.40" y1="483.54" x2="426.42" y2="446.43" stroke="#dedede" stroke-width="0.65"/>
<line x1="287.07" y1="448.67" x2="378.31" y2="479.65" stroke="#dedede" stroke-width="0.65"/>
<line x1="300.79" y1="443.50" x2="391.36" y2="472.84" stroke="#dedede" stroke-width="0.65"/>
<line x1="313.84" y1="438.58" x2="403.68" y2="466.42" stroke="#dedede" stroke-width="0.65"/>
<line x1="326.26" y1="433.89" x2="415.33" y2="460.35" stroke="#dedede" stroke-width="0.65"/>
<line x1="338.10" y1="429.43" x2="426.36" y2="454.59" stroke="#dedede" stroke-width="0.65"/>
<line x1="266.83" y1="336.96" x2="349.51" y2="323.25" stroke="#8a8a8a" stroke-width="0.8"/>
<line x1="349.51" y1="323.25" x2="442.44" y2="334.88" stroke="#9a9a9a" stroke-width="0.8"/>
<line x1="442.44" y1="334.88" x2="436.64" y2="449.24" stroke="#a0a0a0" stroke-width="0.8"/>
<line x1="349.20" y1="425.24" x2="349.51" y2="323.25" stroke="#a8a8a8" stroke-width="0.8"/>
<line x1="271.45" y1="454.56" x2="349.20" y2="425.24" stroke="#808080" stroke-width="0.8"/>
<line x1="349.20" y1="425.24" x2="436.64" y2="449.24" stroke="#808080" stroke-width="0.8"/>
<line x1="266.83" y1="336.96" x2="271.45" y2="454.56" stroke="#555" stroke-width="0.9"/>
<line x1="271.45" y1="454.56" x2="363.33" y2="487.46" stroke="#555" stroke-width="0.9"/>
<line x1="363.33" y1="487.46" x2="436.64" y2="449.24" stroke="#555" stroke-width="0.9"/>
<rect x="287.01" y="453.47" width="2" height="1.4" fill="#52ea52"/>
<rect x="294.13" y="450.71" width="2" height="1.4" fill="#52ea52"/>
<rect x="301.06" y="448.02" width="2" height="1.4" fill="#52ea52"/>
<rect x="307.82" y="445.40" width="2" height="1.4" fill="#52ea52"/>
<rect x="314.41" y="442.84" width="2" height="1.4" fill="#52ea52"/>
<rect x="320.83" y="440.35" width="2" height="1.4" fill="#52ea52"/>
<rect x="327.09" y="437.92" width="2" height="1.4" fill="#52ea52"/>
<rect x="333.20" y="435.55" width="2" height="1.4" fill="#52ea52"/>
<rect x="339.17" y="433.24" width="2" height="1.4" fill="#52ea52"/>
<rect x="344.99" y="430.98" width="2" height="1.4" fill="#52ea52"/>
<rect x="303.81" y="459.31" width="2" height="1.4" fill="#52ea52"/>
<rect x="310.89" y="456.40" width="2" height="1.4" fill="#52ea52"/>
<rect x="317.78" y="453.56" width="2" height="1.4" fill="#52ea52"/>
<rect x="324.50" y="450.80" width="2" height="1.4" fill="#52ea52"/>
<rect x="331.04" y="448.11" width="2" height="1.4" fill="#52ea52"/>
<rect x="337.41" y="445.49" width="2" height="1.4" fill="#52ea52"/>
<rect x="343.62" y="442.94" width="2" height="1.4" fill="#52ea52"/>
<rect x="349.68" y="440.44" width="2" height="1.4" fill="#52ea52"/>
<rect x="355.58" y="438.01" width="2" height="1.4" fill="#52ea52"/>
<rect x="361.35" y="435.64" width="2" height="1.4" fill="#52ea52"/>
<rect x="366.98" y="433.33" width="2" height="1.4" fill="#52ea52"/>
<rect x="321.54" y="465.48" width="2" height="1.4" fill="#52ea52"/>
<rect x="328.57" y="462.40" width="2" height="1.4" fill="#52ea52"/>
<rect x="335.41" y="459.41" width="2" height="1.4" fill="#52ea52"/>
<rect x="342.06" y="456.49" width="2" height="1.4" fill="#52ea52"/>
<rect x="348.54" y="453.66" width="2" height="1.4" fill="#52ea52"/>
<rect x="354.85" y="450.90" width="2" height="1.4" fill="#52ea52"/>
<rect x="360.99" y="448.21" width="2" height="1.4" fill="#52ea52"/>
<rect x="366.98" y="445.58" width="2" height="1.4" fill="#52ea52"/>
<rect x="372.82" y="443.03" width="2" height="1.4" fill="#52ea52"/>
<rect x="378.51" y="440.54" width="2" height="1.4" fill="#52ea52"/>
<rect x="384.06" y="438.10" width="2" height="1.4" fill="#52ea52"/>
<rect x="340.28" y="472.00" width="2" height="1.4" fill="#52ea52"/>
<rect x="347.24" y="468.74" width="2" height="1.4" fill="#52ea52"/>
<rect x="354.01" y="465.58" width="2" height="1.4" fill="#52ea52"/>
<rect x="360.59" y="462.50" width="2" height="1.4" fill="#52ea52"/>
<rect x="366.99" y="459.50" width="2" height="1.4" fill="#52ea52"/>
<rect x="373.22" y="456.59" width="2" height="1.4" fill="#52ea52"/>
<rect x="379.28" y="453.75" width="2" height="1.4" fill="#52ea52"/>
<rect x="385.19" y="450.99" width="2" height="1.4" fill="#52ea52"/>
<rect x="390.94" y="448.30" width="2" height="1.4" fill="#52ea52"/>
<rect x="396.54" y="445.68" width="2" height="1.4" fill="#52ea52"/>
<rect x="402.01" y="443.12" width="2" height="1.4" fill="#52ea52"/>
<rect x="360.12" y="478.90" width="2" height="1.4" fill="#52ea52"/>
<rect x="367.00" y="475.45" width="2" height="1.4" fill="#52ea52"/>
<rect x="373.67" y="472.10" width="2" height="1.4" fill="#52ea52"/>
<rect x="380.16" y="468.84" width="2" height="1.4" fill="#52ea52"/>
<rect x="386.46" y="465.67" width="2" height="1.4" fill="#52ea52"/>
<rect x="392.59" y="462.59" width="2" height="1.4" fill="#52ea52"/>
<rect x="398.55" y="459.60" width="2" height="1.4" fill="#52ea52"/>
<rect x="404.36" y="456.68" width="2" height="1.4" fill="#52ea52"/>
<rect x="410.01" y="453.85" width="2" height="1.4" fill="#52ea52"/>
<rect x="415.51" y="451.08" width="2" height="1.4" fill="#52ea52"/>
<rect x="420.87" y="448.39" width="2" height="1.4" fill="#52ea52"/>
<polygon points="286.58,406.77 351.68,428.68 424.33,391.37 362.31,358.89" fill="#e4f2cb" fill-opacity="0.75"/>
<circle cx="286.58" cy="406.77" r="2.1" fill="url(#sph1)"/>
<circle cx="294.02" cy="409.27" r="2.1" fill="url(#sph1)"/>
<circle cx="301.23" cy="411.70" r="2.1" fill="url(#sph1)"/>
<circle cx="308.22" cy="414.05" r="2.1" fill="url(#sph1)"/>
<circle cx="314.99" cy="416.33" r="2.1" fill="url(#sph1)"/>
<circle cx="321.56" cy="418.54" r="2.1" fill="url(#sph1)"/>
<circle cx="327.94" cy="420.69" r="2.1" fill="url(#sph1)"/>
<circle cx="334.14" cy="422.78" r="2.1" fill="url(#sph1)"/>
<circle cx="340.15" cy="424.80" r="2.1" fill="url(#sph1)"/>
<circle cx="346.00" cy="426.77" r="2.1" fill="url(#sph1)"/>
<circle cx="303.46" cy="396.10" r="2.1" fill="url(#sph1)"/>
<circle cx="310.89" cy="398.86" r="2.1" fill="url(#sph1)"/>
<circle cx="318.07" cy="401.55" r="2.1" fill="url(#sph1)"/>
<circle cx="325.03" cy="404.14" r="2.1" fill="url(#sph1)"/>
<circle cx="331.77" cy="406.65" r="2.1" fill="url(#sph1)"/>
<circle cx="338.31" cy="409.09" r="2.1" fill="url(#sph1)"/>
<circle cx="344.64" cy="411.45" r="2.1" fill="url(#sph1)"/>
<circle cx="350.78" cy="413.74" r="2.1" fill="url(#sph1)"/>
<circle cx="356.75" cy="415.96" r="2.1" fill="url(#sph1)"/>
<circle cx="362.54" cy="418.12" r="2.1" fill="url(#sph1)"/>
<circle cx="368.16" cy="420.22" r="2.1" fill="url(#sph1)"/>
<circle cx="321.60" cy="384.62" r="2.1" fill="url(#sph1)"/>
<circle cx="329.00" cy="387.69" r="2.1" fill="url(#sph1)"/>
<circle cx="336.14" cy="390.66" r="2.1" fill="url(#sph1)"/>
<circle cx="343.05" cy="393.52" r="2.1" fill="url(#sph1)"/>
<circle cx="349.73" cy="396.30" r="2.1" fill="url(#sph1)"/>
<circle cx="356.20" cy="398.98" r="2.1" fill="url(#sph1)"/>
<circle cx="362.47" cy="401.58" r="2.1" fill="url(#sph1)"/>
<circle cx="368.55" cy="404.10" r="2.1" fill="url(#sph1)"/>
<circle cx="374.43" cy="406.55" r="2.1" fill="url(#sph1)"/>
<circle cx="380.14" cy="408.92" r="2.1" fill="url(#sph1)"/>
<circle cx="385.69" cy="411.22" r="2.1" fill="url(#sph1)"/>
<circle cx="341.16" cy="372.26" r="2.1" fill="url(#sph1)"/>
<circle cx="348.49" cy="375.66" r="2.1" fill="url(#sph1)"/>
<circle cx="355.57" cy="378.95" r="2.1" fill="url(#sph1)"/>
<circle cx="362.40" cy="382.12" r="2.1" fill="url(#sph1)"/>
<circle cx="369.00" cy="385.19" r="2.1" fill="url(#sph1)"/>
<circle cx="375.38" cy="388.15" r="2.1" fill="url(#sph1)"/>
<circle cx="381.56" cy="391.02" r="2.1" fill="url(#sph1)"/>
<circle cx="387.53" cy="393.80" r="2.1" fill="url(#sph1)"/>
<circle cx="393.32" cy="396.49" r="2.1" fill="url(#sph1)"/>
<circle cx="398.93" cy="399.09" r="2.1" fill="url(#sph1)"/>
<circle cx="404.37" cy="401.62" r="2.1" fill="url(#sph1)"/>
<circle cx="362.31" cy="358.89" r="2.1" fill="url(#sph1)"/>
<circle cx="369.54" cy="362.68" r="2.1" fill="url(#sph1)"/>
<circle cx="376.51" cy="366.33" r="2.1" fill="url(#sph1)"/>
<circle cx="383.23" cy="369.85" r="2.1" fill="url(#sph1)"/>
<circle cx="389.72" cy="373.24" r="2.1" fill="url(#sph1)"/>
<circle cx="395.98" cy="376.52" r="2.1" fill="url(#sph1)"/>
<circle cx="402.03" cy="379.69" r="2.1" fill="url(#sph1)"/>
<circle cx="407.88" cy="382.76" r="2.1" fill="url(#sph1)"/>
<circle cx="413.55" cy="385.72" r="2.1" fill="url(#sph1)"/>
<circle cx="419.03" cy="388.59" r="2.1" fill="url(#sph1)"/>
<circle cx="424.33" cy="391.37" r="2.1" fill="url(#sph1)"/>
<line x1="271.45" y1="454.56" x2="269.45" y2="454.86" stroke="#444" stroke-width="0.7"/>
<text transform="translate(268.25,455.56) skewY(-11) scale(0.78,1)" dy="2.5" font-family="Liberation Sans, sans-serif" font-weight="bold" font-size="7.1" text-anchor="end" fill="#1a1a1a">2300</text>
<line x1="270.83" y1="438.64" x2="268.83" y2="438.94" stroke="#444" stroke-width="0.7"/>
<text transform="translate(267.63,439.64) skewY(-11) scale(0.78,1)" dy="2.5" font-family="Liberation Sans, sans-serif" font-weight="bold" font-size="7.1" text-anchor="end" fill="#1a1a1a">2400</text>
<line x1="270.19" y1="422.44" x2="268.19" y2="422.74" stroke="#444" stroke-width="0.7"/>
<text transform="translate(266.99,423.44) skewY(-11) scale(0.78,1)" dy="2.5" font-family="Liberation Sans, sans-serif" font-weight="bold" font-size="7.1" text-anchor="end" fill="#1a1a1a">2500</text>
<line x1="269.54" y1="405.95" x2="267.54" y2="406.25" stroke="#444" stroke-width="0.7"/>
<text transform="translate(266.34,406.95) skewY(-11) scale(0.78,1)" dy="2.5" font-family="Liberation Sans, sans-serif" font-weight="bold" font-size="7.1" text-anchor="end" fill="#1a1a1a">2600</text>
<line x1="268.88" y1="389.16" x2="266.88" y2="389.46" stroke="#444" stroke-width="0.7"/>
<text transform="translate(265.68,390.16) skewY(-11) scale(0.78,1)" dy="2.5" font-family="Liberation Sans, sans-serif" font-weight="bold" font-size="7.1" text-anchor="end" fill="#1a1a1a">2700</text>
<line x1="268.21" y1="372.08" x2="266.21" y2="372.38" stroke="#444" stroke-width="0.7"/>
<text transform="translate(265.01,373.08) skewY(-11) scale(0.78,1)" dy="2.5" font-family="Liberation Sans, sans-serif" font-weight="bold" font-size="7.1" text-anchor="end" fill="#1a1a1a">2800</text>
<line x1="267.52" y1="354.68" x2="265.52" y2="354.98" stroke="#444" stroke-width="0.7"/>
<text transform="translate(264.32,355.68) skewY(-11) scale(0.78,1)" dy="2.5" font-family="Liberation Sans, sans-serif" font-weight="bold" font-size="7.1" text-anchor="end" fill="#1a1a1a">2900</text>
<line x1="266.83" y1="336.96" x2="264.83" y2="337.26" stroke="#444" stroke-width="0.7"/>
<text transform="translate(263.63,337.96) skewY(-11) scale(0.78,1)" dy="2.5" font-family="Liberation Sans, sans-serif" font-weight="bold" font-size="7.1" text-anchor="end" fill="#1a1a1a">3000</text>
<text transform="translate(250.40,402.7) rotate(86)" dy="2.6" font-family="Liberation Sans, sans-serif" font-weight="bold" font-size="7.7" text-anchor="middle" fill="#1a1a1a">Retention index</text>
<text transform="translate(273.54,460.36) rotate(22) skewX(-45)" dy="1.9" font-family="Liberation Sans, sans-serif" font-weight="bold" font-size="5.4" text-anchor="middle" fill="#333">14</text>
<text transform="translate(290.37,466.38) rotate(22) skewX(-45)" dy="1.9" font-family="Liberation Sans, sans-serif" font-weight="bold" font-size="5.4" text-anchor="middle" fill="#333">15</text>
<text transform="translate(308.15,472.75) rotate(22) skewX(-45)" dy="1.9" font-family="Liberation Sans, sans-serif" font-weight="bold" font-size="5.4" text-anchor="middle" fill="#333">16</text>
<text transform="translate(326.97,479.49) rotate(22) skewX(-45)" dy="1.9" font-family="Liberation Sans, sans-serif" font-weight="bold" font-size="5.4" text-anchor="middle" fill="#333">17</text>
<text transform="translate(346.91,486.63) rotate(22) skewX(-45)" dy="1.9" font-family="Liberation Sans, sans-serif" font-weight="bold" font-size="5.4" text-anchor="middle" fill="#333">18</text>
<text transform="translate(302.80,477.0) rotate(21.5) skewX(-40)" dy="2.2" font-family="Liberation Sans, sans-serif" font-weight="bold" font-size="6.0" text-anchor="middle" fill="#2a2a2a">Carbon number of FA</text>
<text transform="translate(370.26,489.67) rotate(-27) skewX(-40)" dy="1.9" font-family="Liberation Sans, sans-serif" font-weight="bold" font-size="5.4" text-anchor="middle" fill="#333">2</text>
<text transform="translate(384.11,482.45) rotate(-27) skewX(-40)" dy="1.9" font-family="Liberation Sans, sans-serif" font-weight="bold" font-size="5.4" text-anchor="middle" fill="#333">4</text>
<text transform="translate(397.16,475.64) rotate(-27) skewX(-40)" dy="1.9" font-family="Liberation Sans, sans-serif" font-weight="bold" font-size="5.4" text-anchor="middle" fill="#333">6</text>
<text transform="translate(409.48,469.22) rotate(-27) skewX(-40)" dy="1.9" font-family="Liberation Sans, sans-serif" font-weight="bold" font-size="5.4" text-anchor="middle" fill="#333">8</text>
<text transform="translate(421.13,463.15) rotate(-27) skewX(-40)" dy="1.9" font-family="Liberation Sans, sans-serif" font-weight="bold" font-size="5.4" text-anchor="middle" fill="#333">10</text>
<text transform="translate(432.16,457.39) rotate(-27) skewX(-40)" dy="1.9" font-family="Liberation Sans, sans-serif" font-weight="bold" font-size="5.4" text-anchor="middle" fill="#333">12</text>
<text transform="translate(442.62,451.94) rotate(-27) skewX(-40)" dy="1.9" font-family="Liberation Sans, sans-serif" font-weight="bold" font-size="5.4" text-anchor="middle" fill="#333">14</text>
<text transform="translate(418.20,473.0) rotate(-28) skewX(-35)" dy="2.1" font-family="Liberation Sans, sans-serif" font-weight="bold" font-size="5.4" text-anchor="middle" fill="#2a2a2a">Ester position</text>
<text x="231.90" y="322.2" font-family="Liberation Serif, serif" font-size="16.5" fill="#111">(II)</text>
<text x="299.10" y="321.1" font-family="Liberation Sans, sans-serif" font-weight="bold" font-size="8.6" fill="#111">FAHFA (C14~18:0-O-C16:0)</text>
<text x="299.60" y="503.3" font-family="Liberation Sans, sans-serif" font-weight="bold" font-size="8.6" fill="#111" xml:space="preserve"><tspan font-style="italic">y</tspan> = 1429 + 90x<tspan font-size="6" dy="1.8">1</tspan><tspan dy="-1.8">  -  29x</tspan><tspan font-size="6" dy="1.8">2</tspan></text>
<text x="299.60" y="512.6" font-family="Liberation Sans, sans-serif" font-weight="bold" font-size="8.6" fill="#111"><tspan font-style="italic">R</tspan><tspan font-size="5" dy="-3">2</tspan><tspan dy="3"> = 0.9982</tspan></text>
<line x1="521.39" y1="449.61" x2="517.70" y2="334.63" stroke="#dedede" stroke-width="0.65"/>
<line x1="533.47" y1="445.05" x2="530.61" y2="332.49" stroke="#dedede" stroke-width="0.65"/>
<line x1="545.03" y1="440.69" x2="542.92" y2="330.45" stroke="#dedede" stroke-width="0.65"/>
<line x1="556.10" y1="436.52" x2="554.69" y2="328.50" stroke="#dedede" stroke-width="0.65"/>
<line x1="566.71" y1="432.52" x2="565.93" y2="326.63" stroke="#dedede" stroke-width="0.65"/>
<line x1="576.89" y1="428.68" x2="576.70" y2="324.85" stroke="#dedede" stroke-width="0.65"/>
<line x1="507.68" y1="439.91" x2="586.03" y2="412.43" stroke="#dedede" stroke-width="0.65"/>
<line x1="507.09" y1="425.01" x2="586.07" y2="399.45" stroke="#dedede" stroke-width="0.65"/>
<line x1="506.49" y1="409.88" x2="586.12" y2="386.28" stroke="#dedede" stroke-width="0.65"/>
<line x1="505.89" y1="394.50" x2="586.16" y2="372.92" stroke="#dedede" stroke-width="0.65"/>
<line x1="505.27" y1="378.86" x2="586.20" y2="359.38" stroke="#dedede" stroke-width="0.65"/>
<line x1="504.65" y1="362.96" x2="586.24" y2="345.64" stroke="#dedede" stroke-width="0.65"/>
<line x1="504.01" y1="346.79" x2="586.28" y2="331.71" stroke="#dedede" stroke-width="0.65"/>
<line x1="593.44" y1="427.29" x2="594.17" y2="324.24" stroke="#dedede" stroke-width="0.65"/>
<line x1="609.66" y1="431.74" x2="611.33" y2="326.38" stroke="#dedede" stroke-width="0.65"/>
<line x1="626.65" y1="436.40" x2="629.36" y2="328.64" stroke="#dedede" stroke-width="0.65"/>
<line x1="644.49" y1="441.29" x2="648.33" y2="331.01" stroke="#dedede" stroke-width="0.65"/>
<line x1="663.22" y1="446.43" x2="668.32" y2="333.51" stroke="#dedede" stroke-width="0.65"/>
<line x1="586.03" y1="412.43" x2="674.16" y2="434.96" stroke="#dedede" stroke-width="0.65"/>
<line x1="586.07" y1="399.45" x2="674.90" y2="420.46" stroke="#dedede" stroke-width="0.65"/>
<line x1="586.12" y1="386.28" x2="675.65" y2="405.73" stroke="#dedede" stroke-width="0.65"/>
<line x1="586.16" y1="372.92" x2="676.41" y2="390.77" stroke="#dedede" stroke-width="0.65"/>
<line x1="586.20" y1="359.38" x2="677.18" y2="375.57" stroke="#dedede" stroke-width="0.65"/>
<line x1="586.24" y1="345.64" x2="677.96" y2="360.12" stroke="#dedede" stroke-width="0.65"/>
<line x1="586.28" y1="331.71" x2="678.76" y2="344.42" stroke="#dedede" stroke-width="0.65"/>
<line x1="515.93" y1="457.31" x2="593.44" y2="427.29" stroke="#dedede" stroke-width="0.65"/>
<line x1="532.74" y1="463.33" x2="609.66" y2="431.74" stroke="#dedede" stroke-width="0.65"/>
<line x1="550.50" y1="469.69" x2="626.65" y2="436.40" stroke="#dedede" stroke-width="0.65"/>
<line x1="569.29" y1="476.41" x2="644.49" y2="441.29" stroke="#dedede" stroke-width="0.65"/>
<line x1="589.20" y1="483.54" x2="663.22" y2="446.43" stroke="#dedede" stroke-width="0.65"/>
<line x1="521.39" y1="449.61" x2="612.74" y2="480.89" stroke="#dedede" stroke-width="0.65"/>
<line x1="533.47" y1="445.05" x2="624.25" y2="474.89" stroke="#dedede" stroke-width="0.65"/>
<line x1="545.03" y1="440.69" x2="635.19" y2="469.18" stroke="#dedede" stroke-width="0.65"/>
<line x1="556.10" y1="436.52" x2="645.61" y2="463.75" stroke="#dedede" stroke-width="0.65"/>
<line x1="566.71" y1="432.52" x2="655.54" y2="458.57" stroke="#dedede" stroke-width="0.65"/>
<line x1="576.89" y1="428.68" x2="665.01" y2="453.63" stroke="#dedede" stroke-width="0.65"/>
<line x1="503.63" y1="336.96" x2="586.31" y2="323.25" stroke="#8a8a8a" stroke-width="0.8"/>
<line x1="586.31" y1="323.25" x2="679.24" y2="334.88" stroke="#9a9a9a" stroke-width="0.8"/>
<line x1="679.24" y1="334.88" x2="673.44" y2="449.24" stroke="#a0a0a0" stroke-width="0.8"/>
<line x1="586.00" y1="425.24" x2="586.31" y2="323.25" stroke="#a8a8a8" stroke-width="0.8"/>
<line x1="508.25" y1="454.56" x2="586.00" y2="425.24" stroke="#808080" stroke-width="0.8"/>
<line x1="586.00" y1="425.24" x2="673.44" y2="449.24" stroke="#808080" stroke-width="0.8"/>
<line x1="503.63" y1="336.96" x2="508.25" y2="454.56" stroke="#555" stroke-width="0.9"/>
<line x1="508.25" y1="454.56" x2="600.13" y2="487.46" stroke="#555" stroke-width="0.9"/>
<line x1="600.13" y1="487.46" x2="673.44" y2="449.24" stroke="#555" stroke-width="0.9"/>
<rect x="522.19" y="454.10" width="2" height="1.4" fill="#52ea52"/>
<rect x="528.42" y="451.68" width="2" height="1.4" fill="#52ea52"/>
<rect x="534.52" y="449.32" width="2" height="1.4" fill="#52ea52"/>
<rect x="540.47" y="447.01" width="2" height="1.4" fill="#52ea52"/>
<rect x="546.30" y="444.75" width="2" height="1.4" fill="#52ea52"/>
<rect x="551.99" y="442.54" width="2" height="1.4" fill="#52ea52"/>
<rect x="557.57" y="440.38" width="2" height="1.4" fill="#52ea52"/>
<rect x="563.02" y="438.26" width="2" height="1.4" fill="#52ea52"/>
<rect x="568.36" y="436.19" width="2" height="1.4" fill="#52ea52"/>
<rect x="573.59" y="434.16" width="2" height="1.4" fill="#52ea52"/>
<rect x="578.70" y="432.18" width="2" height="1.4" fill="#52ea52"/>
<rect x="539.00" y="459.98" width="2" height="1.4" fill="#52ea52"/>
<rect x="545.20" y="457.42" width="2" height="1.4" fill="#52ea52"/>
<rect x="551.26" y="454.93" width="2" height="1.4" fill="#52ea52"/>
<rect x="557.18" y="452.50" width="2" height="1.4" fill="#52ea52"/>
<rect x="562.96" y="450.12" width="2" height="1.4" fill="#52ea52"/>
<rect x="568.62" y="447.79" width="2" height="1.4" fill="#52ea52"/>
<rect x="574.15" y="445.52" width="2" height="1.4" fill="#52ea52"/>
<rect x="579.56" y="443.29" width="2" height="1.4" fill="#52ea52"/>
<rect x="584.85" y="441.11" width="2" height="1.4" fill="#52ea52"/>
<rect x="590.02" y="438.98" width="2" height="1.4" fill="#52ea52"/>
<rect x="595.09" y="436.90" width="2" height="1.4" fill="#52ea52"/>
<rect x="600.05" y="434.86" width="2" height="1.4" fill="#52ea52"/>
<rect x="604.91" y="432.86" width="2" height="1.4" fill="#52ea52"/>
<rect x="556.74" y="466.18" width="2" height="1.4" fill="#52ea52"/>
<rect x="562.90" y="463.48" width="2" height="1.4" fill="#52ea52"/>
<rect x="568.91" y="460.85" width="2" height="1.4" fill="#52ea52"/>
<rect x="574.78" y="458.28" width="2" height="1.4" fill="#52ea52"/>
<rect x="580.51" y="455.77" width="2" height="1.4" fill="#52ea52"/>
<rect x="586.11" y="453.32" width="2" height="1.4" fill="#52ea52"/>
<rect x="591.59" y="450.92" width="2" height="1.4" fill="#52ea52"/>
<rect x="596.94" y="448.58" width="2" height="1.4" fill="#52ea52"/>
<rect x="602.17" y="446.29" width="2" height="1.4" fill="#52ea52"/>
<rect x="607.29" y="444.05" width="2" height="1.4" fill="#52ea52"/>
<rect x="612.29" y="441.86" width="2" height="1.4" fill="#52ea52"/>
<rect x="617.19" y="439.71" width="2" height="1.4" fill="#52ea52"/>
<rect x="621.99" y="437.61" width="2" height="1.4" fill="#52ea52"/>
<rect x="575.49" y="472.74" width="2" height="1.4" fill="#52ea52"/>
<rect x="581.59" y="469.89" width="2" height="1.4" fill="#52ea52"/>
<rect x="587.54" y="467.10" width="2" height="1.4" fill="#52ea52"/>
<rect x="593.35" y="464.39" width="2" height="1.4" fill="#52ea52"/>
<rect x="599.02" y="461.73" width="2" height="1.4" fill="#52ea52"/>
<rect x="604.55" y="459.15" width="2" height="1.4" fill="#52ea52"/>
<rect x="609.96" y="456.62" width="2" height="1.4" fill="#52ea52"/>
<rect x="615.24" y="454.15" width="2" height="1.4" fill="#52ea52"/>
<rect x="620.40" y="451.73" width="2" height="1.4" fill="#52ea52"/>
<rect x="625.44" y="449.37" width="2" height="1.4" fill="#52ea52"/>
<rect x="630.37" y="447.07" width="2" height="1.4" fill="#52ea52"/>
<rect x="635.19" y="444.81" width="2" height="1.4" fill="#52ea52"/>
<rect x="639.91" y="442.60" width="2" height="1.4" fill="#52ea52"/>
<rect x="595.36" y="479.69" width="2" height="1.4" fill="#52ea52"/>
<rect x="601.38" y="476.66" width="2" height="1.4" fill="#52ea52"/>
<rect x="607.25" y="473.71" width="2" height="1.4" fill="#52ea52"/>
<rect x="612.98" y="470.84" width="2" height="1.4" fill="#52ea52"/>
<rect x="618.56" y="468.03" width="2" height="1.4" fill="#52ea52"/>
<rect x="624.01" y="465.29" width="2" height="1.4" fill="#52ea52"/>
<rect x="629.33" y="462.62" width="2" height="1.4" fill="#52ea52"/>
<rect x="634.53" y="460.01" width="2" height="1.4" fill="#52ea52"/>
<rect x="639.60" y="457.47" width="2" height="1.4" fill="#52ea52"/>
<rect x="644.55" y="454.98" width="2" height="1.4" fill="#52ea52"/>
<rect x="649.39" y="452.55" width="2" height="1.4" fill="#52ea52"/>
<rect x="654.12" y="450.17" width="2" height="1.4" fill="#52ea52"/>
<rect x="658.75" y="447.85" width="2" height="1.4" fill="#52ea52"/>
<polygon points="521.41,397.56 589.65,425.08 662.22,391.42 597.49,352.76" fill="#e0e6fb" fill-opacity="0.75"/>
<circle cx="521.41" cy="397.56" r="2.1" fill="url(#sph2)"/>
<circle cx="527.98" cy="400.21" r="2.1" fill="url(#sph2)"/>
<circle cx="534.37" cy="402.78" r="2.1" fill="url(#sph2)"/>
<circle cx="540.58" cy="405.29" r="2.1" fill="url(#sph2)"/>
<circle cx="546.62" cy="407.72" r="2.1" fill="url(#sph2)"/>
<circle cx="552.50" cy="410.10" r="2.1" fill="url(#sph2)"/>
<circle cx="558.23" cy="412.41" r="2.1" fill="url(#sph2)"/>
<circle cx="563.81" cy="414.66" r="2.1" fill="url(#sph2)"/>
<circle cx="569.24" cy="416.85" r="2.1" fill="url(#sph2)"/>
<circle cx="574.54" cy="418.98" r="2.1" fill="url(#sph2)"/>
<circle cx="579.70" cy="421.07" r="2.1" fill="url(#sph2)"/>
<circle cx="538.38" cy="387.56" r="2.1" fill="url(#sph2)"/>
<circle cx="544.94" cy="390.45" r="2.1" fill="url(#sph2)"/>
<circle cx="551.30" cy="393.26" r="2.1" fill="url(#sph2)"/>
<circle cx="557.49" cy="395.98" r="2.1" fill="url(#sph2)"/>
<circle cx="563.50" cy="398.63" r="2.1" fill="url(#sph2)"/>
<circle cx="569.34" cy="401.21" r="2.1" fill="url(#sph2)"/>
<circle cx="575.03" cy="403.72" r="2.1" fill="url(#sph2)"/>
<circle cx="580.56" cy="406.16" r="2.1" fill="url(#sph2)"/>
<circle cx="585.95" cy="408.53" r="2.1" fill="url(#sph2)"/>
<circle cx="591.19" cy="410.85" r="2.1" fill="url(#sph2)"/>
<circle cx="596.30" cy="413.10" r="2.1" fill="url(#sph2)"/>
<circle cx="601.28" cy="415.29" r="2.1" fill="url(#sph2)"/>
<circle cx="606.14" cy="417.43" r="2.1" fill="url(#sph2)"/>
<circle cx="556.62" cy="376.82" r="2.1" fill="url(#sph2)"/>
<circle cx="563.14" cy="379.98" r="2.1" fill="url(#sph2)"/>
<circle cx="569.46" cy="383.05" r="2.1" fill="url(#sph2)"/>
<circle cx="575.60" cy="386.02" r="2.1" fill="url(#sph2)"/>
<circle cx="581.56" cy="388.91" r="2.1" fill="url(#sph2)"/>
<circle cx="587.35" cy="391.71" r="2.1" fill="url(#sph2)"/>
<circle cx="592.97" cy="394.44" r="2.1" fill="url(#sph2)"/>
<circle cx="598.44" cy="397.09" r="2.1" fill="url(#sph2)"/>
<circle cx="603.76" cy="399.67" r="2.1" fill="url(#sph2)"/>
<circle cx="608.94" cy="402.17" r="2.1" fill="url(#sph2)"/>
<circle cx="613.97" cy="404.62" r="2.1" fill="url(#sph2)"/>
<circle cx="618.88" cy="406.99" r="2.1" fill="url(#sph2)"/>
<circle cx="623.66" cy="409.31" r="2.1" fill="url(#sph2)"/>
<circle cx="576.27" cy="365.26" r="2.1" fill="url(#sph2)"/>
<circle cx="582.73" cy="368.72" r="2.1" fill="url(#sph2)"/>
<circle cx="588.98" cy="372.07" r="2.1" fill="url(#sph2)"/>
<circle cx="595.05" cy="375.32" r="2.1" fill="url(#sph2)"/>
<circle cx="600.93" cy="378.47" r="2.1" fill="url(#sph2)"/>
<circle cx="606.64" cy="381.53" r="2.1" fill="url(#sph2)"/>
<circle cx="612.18" cy="384.50" r="2.1" fill="url(#sph2)"/>
<circle cx="617.56" cy="387.39" r="2.1" fill="url(#sph2)"/>
<circle cx="622.79" cy="390.19" r="2.1" fill="url(#sph2)"/>
<circle cx="627.88" cy="392.92" r="2.1" fill="url(#sph2)"/>
<circle cx="632.82" cy="395.57" r="2.1" fill="url(#sph2)"/>
<circle cx="637.63" cy="398.15" r="2.1" fill="url(#sph2)"/>
<circle cx="642.31" cy="400.65" r="2.1" fill="url(#sph2)"/>
<circle cx="597.49" cy="352.76" r="2.1" fill="url(#sph2)"/>
<circle cx="603.86" cy="356.56" r="2.1" fill="url(#sph2)"/>
<circle cx="610.02" cy="360.24" r="2.1" fill="url(#sph2)"/>
<circle cx="615.98" cy="363.80" r="2.1" fill="url(#sph2)"/>
<circle cx="621.76" cy="367.26" r="2.1" fill="url(#sph2)"/>
<circle cx="627.36" cy="370.60" r="2.1" fill="url(#sph2)"/>
<circle cx="632.79" cy="373.85" r="2.1" fill="url(#sph2)"/>
<circle cx="638.06" cy="376.99" r="2.1" fill="url(#sph2)"/>
<circle cx="643.18" cy="380.05" r="2.1" fill="url(#sph2)"/>
<circle cx="648.14" cy="383.01" r="2.1" fill="url(#sph2)"/>
<circle cx="652.97" cy="385.90" r="2.1" fill="url(#sph2)"/>
<circle cx="657.66" cy="388.70" r="2.1" fill="url(#sph2)"/>
<circle cx="662.22" cy="391.42" r="2.1" fill="url(#sph2)"/>
<line x1="508.25" y1="454.56" x2="506.25" y2="454.86" stroke="#444" stroke-width="0.7"/>
<text transform="translate(505.05,455.56) skewY(-11) scale(0.78,1)" dy="2.5" font-family="Liberation Sans, sans-serif" font-weight="bold" font-size="7.1" text-anchor="end" fill="#1a1a1a">2400</text>
<line x1="507.68" y1="439.91" x2="505.68" y2="440.21" stroke="#444" stroke-width="0.7"/>
<text transform="translate(504.48,440.91) skewY(-11) scale(0.78,1)" dy="2.5" font-family="Liberation Sans, sans-serif" font-weight="bold" font-size="7.1" text-anchor="end" fill="#1a1a1a">2500</text>
<line x1="507.09" y1="425.01" x2="505.09" y2="425.31" stroke="#444" stroke-width="0.7"/>
<text transform="translate(503.89,426.01) skewY(-11) scale(0.78,1)" dy="2.5" font-family="Liberation Sans, sans-serif" font-weight="bold" font-size="7.1" text-anchor="end" fill="#1a1a1a">2600</text>
<line x1="506.49" y1="409.88" x2="504.49" y2="410.18" stroke="#444" stroke-width="0.7"/>
<text transform="translate(503.29,410.88) skewY(-11) scale(0.78,1)" dy="2.5" font-family="Liberation Sans, sans-serif" font-weight="bold" font-size="7.1" text-anchor="end" fill="#1a1a1a">2700</text>
<line x1="505.89" y1="394.50" x2="503.89" y2="394.80" stroke="#444" stroke-width="0.7"/>
<text transform="translate(502.69,395.50) skewY(-11) scale(0.78,1)" dy="2.5" font-family="Liberation Sans, sans-serif" font-weight="bold" font-size="7.1" text-anchor="end" fill="#1a1a1a">2800</text>
<line x1="505.27" y1="378.86" x2="503.27" y2="379.16" stroke="#444" stroke-width="0.7"/>
<text transform="translate(502.07,379.86) skewY(-11) scale(0.78,1)" dy="2.5" font-family="Liberation Sans, sans-serif" font-weight="bold" font-size="7.1" text-anchor="end" fill="#1a1a1a">2900</text>
<line x1="504.65" y1="362.96" x2="502.65" y2="363.26" stroke="#444" stroke-width="0.7"/>
<text transform="translate(501.45,363.96) skewY(-11) scale(0.78,1)" dy="2.5" font-family="Liberation Sans, sans-serif" font-weight="bold" font-size="7.1" text-anchor="end" fill="#1a1a1a">3000</text>
<line x1="504.01" y1="346.79" x2="502.01" y2="347.09" stroke="#444" stroke-width="0.7"/>
<text transform="translate(500.81,347.79) skewY(-11) scale(0.78,1)" dy="2.5" font-family="Liberation Sans, sans-serif" font-weight="bold" font-size="7.1" text-anchor="end" fill="#1a1a1a">3100</text>
<text transform="translate(487.20,402.7) rotate(86)" dy="2.6" font-family="Liberation Sans, sans-serif" font-weight="bold" font-size="7.7" text-anchor="middle" fill="#1a1a1a">Retention index</text>
<text transform="translate(510.34,460.36) rotate(22) skewX(-45)" dy="1.9" font-family="Liberation Sans, sans-serif" font-weight="bold" font-size="5.4" text-anchor="middle" fill="#333">14</text>
<text transform="translate(527.17,466.38) rotate(22) skewX(-45)" dy="1.9" font-family="Liberation Sans, sans-serif" font-weight="bold" font-size="5.4" text-anchor="middle" fill="#333">15</text>
<text transform="translate(544.95,472.75) rotate(22) skewX(-45)" dy="1.9" font-family="Liberation Sans, sans-serif" font-weight="bold" font-size="5.4" text-anchor="middle" fill="#333">16</text>
<text transform="translate(563.77,479.49) rotate(22) skewX(-45)" dy="1.9" font-family="Liberation Sans, sans-serif" font-weight="bold" font-size="5.4" text-anchor="middle" fill="#333">17</text>
<text transform="translate(583.71,486.63) rotate(22) skewX(-45)" dy="1.9" font-family="Liberation Sans, sans-serif" font-weight="bold" font-size="5.4" text-anchor="middle" fill="#333">18</text>
<text transform="translate(539.60,477.0) rotate(21.5) skewX(-40)" dy="2.2" font-family="Liberation Sans, sans-serif" font-weight="bold" font-size="6.0" text-anchor="middle" fill="#2a2a2a">Carbon number of FA</text>
<text transform="translate(606.41,490.01) rotate(-27) skewX(-40)" dy="1.9" font-family="Liberation Sans, sans-serif" font-weight="bold" font-size="5.4" text-anchor="middle" fill="#333">2</text>
<text transform="translate(618.54,483.69) rotate(-27) skewX(-40)" dy="1.9" font-family="Liberation Sans, sans-serif" font-weight="bold" font-size="5.4" text-anchor="middle" fill="#333">4</text>
<text transform="translate(630.05,477.69) rotate(-27) skewX(-40)" dy="1.9" font-family="Liberation Sans, sans-serif" font-weight="bold" font-size="5.4" text-anchor="middle" fill="#333">6</text>
<text transform="translate(640.99,471.98) rotate(-27) skewX(-40)" dy="1.9" font-family="Liberation Sans, sans-serif" font-weight="bold" font-size="5.4" text-anchor="middle" fill="#333">8</text>
<text transform="translate(651.41,466.55) rotate(-27) skewX(-40)" dy="1.9" font-family="Liberation Sans, sans-serif" font-weight="bold" font-size="5.4" text-anchor="middle" fill="#333">10</text>
<text transform="translate(661.34,461.37) rotate(-27) skewX(-40)" dy="1.9" font-family="Liberation Sans, sans-serif" font-weight="bold" font-size="5.4" text-anchor="middle" fill="#333">12</text>
<text transform="translate(670.81,456.43) rotate(-27) skewX(-40)" dy="1.9" font-family="Liberation Sans, sans-serif" font-weight="bold" font-size="5.4" text-anchor="middle" fill="#333">14</text>
<text transform="translate(679.86,451.71) rotate(-27) skewX(-40)" dy="1.9" font-family="Liberation Sans, sans-serif" font-weight="bold" font-size="5.4" text-anchor="middle" fill="#333">16</text>
<text transform="translate(655.00,473.0) rotate(-28) skewX(-35)" dy="2.1" font-family="Liberation Sans, sans-serif" font-weight="bold" font-size="5.4" text-anchor="middle" fill="#2a2a2a">Ester position</text>
<text x="468.00" y="322.2" font-family="Liberation Serif, serif" font-size="16.5" fill="#111">(III)</text>
<text x="535.90" y="321.1" font-family="Liberation Sans, sans-serif" font-weight="bold" font-size="8.6" fill="#111">FAHFA (C14~C18:0-O-C18:0)</text>
<text x="536.40" y="503.3" font-family="Liberation Sans, sans-serif" font-weight="bold" font-size="8.6" fill="#111" xml:space="preserve"><tspan font-style="italic">y</tspan> = 1704 + 83x<tspan font-size="6" dy="1.8">1</tspan><tspan dy="-1.8"> - 28x</tspan><tspan font-size="6" dy="1.8">2</tspan></text>
<text x="536.40" y="512.6" font-family="Liberation Sans, sans-serif" font-weight="bold" font-size="8.6" fill="#111"><tspan font-style="italic">R</tspan><tspan font-size="5" dy="-3">2</tspan><tspan dy="3"> = 0.9976</tspan></text>
</svg></body></html>
